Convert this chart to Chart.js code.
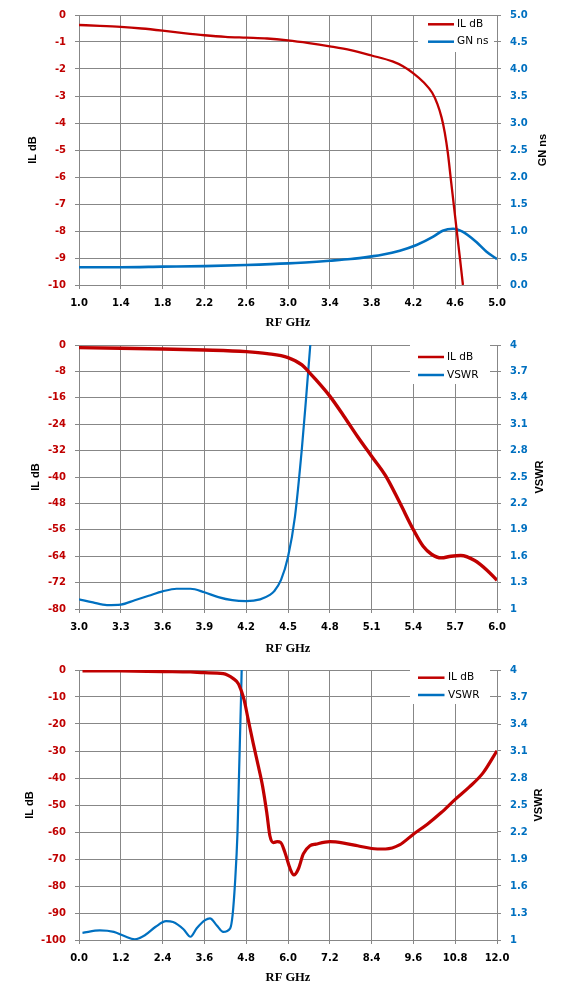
<!DOCTYPE html>
<html>
<head>
<meta charset="utf-8">
<title>Low pass filter - IL, GN, VSWR</title>
<script src="https://cdn.jsdelivr.net/npm/chart.js@4.4.1/dist/chart.umd.min.js"></script>
<style>
  body { margin: 0; background: #fff; }
  canvas { position: absolute; left: 0; }
  #c1 { top: 0; }
  #c2 { top: 330px; }
  #c3 { top: 655px; }
</style>
</head>
<body>
<canvas id="c1" width="567" height="330"></canvas>
<canvas id="c2" width="567" height="325"></canvas>
<canvas id="c3" width="567" height="348"></canvas>
<script>
// chart 1: 1-5 GHz, insertion loss + group delay
const il1Freq = [1.0, 1.2, 1.4, 1.6, 1.8, 2.0, 2.2, 2.4, 2.6, 2.8, 3.0, 3.2, 3.4, 3.6, 3.8, 4.0, 4.1, 4.2, 4.3, 4.38, 4.43, 4.47, 4.5, 4.53, 4.56, 4.59, 4.62, 4.645, 4.674];
const il1Db = [-0.37, -0.40, -0.44, -0.50, -0.58, -0.67, -0.75, -0.81, -0.84, -0.87, -0.94, -1.04, -1.16, -1.30, -1.50, -1.72, -1.90, -2.16, -2.50, -2.88, -3.30, -3.80, -4.35, -5.12, -6.14, -7.15, -8.17, -9.0, -10.0];
const gn1Freq = [1.0, 1.4, 1.8, 2.2, 2.6, 3.0, 3.4, 3.6, 3.8, 3.9, 4.07, 4.23, 4.39, 4.48, 4.58, 4.67, 4.8, 4.9, 5.0];
const gn1Ns = [0.33, 0.33, 0.34, 0.35, 0.37, 0.40, 0.45, 0.48, 0.53, 0.56, 0.635, 0.74, 0.895, 1.005, 1.043, 0.987, 0.80, 0.617, 0.48];

// chart 2: 3-6 GHz, insertion loss + VSWR
const il2Freq = [3.0, 3.3, 3.6, 3.9, 4.2, 4.35, 4.5, 4.6, 4.65, 4.7, 4.8, 4.9, 5.0, 5.1, 5.2, 5.3, 5.4, 5.47, 5.53, 5.6, 5.67, 5.74, 5.84, 5.93, 6.0];
const il2Db = [-0.8, -1.0, -1.2, -1.5, -2.0, -2.6, -3.8, -6.0, -8.2, -10.5, -15.5, -21.5, -27.8, -33.7, -39.6, -47.6, -56.0, -61.0, -63.4, -64.5, -64.0, -63.8, -65.3, -68.3, -71.3];
const vswr2Freq = [3.0, 3.1, 3.2, 3.3, 3.4, 3.5, 3.6, 3.7, 3.8, 3.9, 4.0, 4.1, 4.2, 4.3, 4.37, 4.4, 4.45, 4.5, 4.55, 4.6, 4.63, 4.66];
const vswr2 = [1.11, 1.075, 1.045, 1.05, 1.10, 1.15, 1.20, 1.23, 1.23, 1.19, 1.135, 1.10, 1.09, 1.11, 1.16, 1.2, 1.33, 1.59, 2.05, 2.83, 3.4, 4.0];

// chart 3: 0-12 GHz, insertion loss + VSWR
const il3Freq = [0.1, 1.2, 2.4, 3.2, 3.6, 4.14, 4.43, 4.57, 4.67, 4.74, 4.86, 5.0, 5.15, 5.27, 5.39, 5.48, 5.58, 5.69, 5.79, 5.91, 6.06, 6.17, 6.3, 6.44, 6.63, 6.8, 7.2, 7.6, 8.0, 8.4, 8.8, 9.2, 9.6, 10.0, 10.4, 10.8, 11.2, 11.6, 12.0];
const il3Db = [-0.3, -0.35, -0.6, -0.75, -1.0, -1.35, -3.2, -5.0, -8.1, -11.1, -18.5, -27.1, -35.7, -43.0, -52.8, -61.4, -63.9, -63.6, -63.9, -67.5, -73.6, -75.9, -73.6, -68.1, -65.1, -64.5, -63.6, -64.1, -65.1, -66.1, -66.3, -64.8, -60.8, -57.1, -52.8, -47.9, -43.4, -38.1, -29.9];
const vswr3Freq = [0.1, 0.6, 1.0, 1.3, 1.6, 1.9, 2.2, 2.5, 2.7, 3.0, 3.2, 3.38, 3.62, 3.76, 3.95, 4.14, 4.34, 4.41, 4.48, 4.55, 4.6, 4.65, 4.67];
const vswr3 = [1.08, 1.107, 1.09, 1.044, 1.008, 1.055, 1.147, 1.21, 1.20, 1.12, 1.036, 1.13, 1.22, 1.24, 1.165, 1.09, 1.13, 1.28, 1.64, 2.19, 2.93, 3.67, 4.0];

// tick labels
const x1Ticks = ['1.0', '1.4', '1.8', '2.2', '2.6', '3.0', '3.4', '3.8', '4.2', '4.6', '5.0'];
const il1Ticks = ['-10', '-9', '-8', '-7', '-6', '-5', '-4', '-3', '-2', '-1', '0'];
const gnTicks = ['0.0', '0.5', '1.0', '1.5', '2.0', '2.5', '3.0', '3.5', '4.0', '4.5', '5.0'];
const x2Ticks = ['3.0', '3.3', '3.6', '3.9', '4.2', '4.5', '4.8', '5.1', '5.4', '5.7', '6.0'];
const il2Ticks = ['-80', '-72', '-64', '-56', '-48', '-40', '-32', '-24', '-16', '-8', '0'];
const x3Ticks = ['0.0', '1.2', '2.4', '3.6', '4.8', '6.0', '7.2', '8.4', '9.6', '10.8', '12.0'];
const il3Ticks = ['-100', '-90', '-80', '-70', '-60', '-50', '-40', '-30', '-20', '-10', '0'];
const vswrTicks = ['1', '1.3', '1.6', '1.9', '2.2', '2.5', '2.8', '3.1', '3.4', '3.7', '4'];

const RED = '#C00000';
const BLUE = '#0070C0';
const GRID = '#878787';
const PLOT_L = 79, PLOT_R = 497, W = 567;
const TICK_FONT = { family: 'DejaVu Sans', weight: 'bold', size: 10 };

const pts = (xs, ys) => xs.map((x, i) => ({ x, y: ys[i] }));

// excel-like legend box inside the plot and axis titles (both vertical ones read bottom-to-top)
const excelFrame = {
  id: 'excelFrame',
  beforeDatasetsDraw(chart, args, o) {
    const ctx = chart.ctx;
    ctx.save();
    ctx.fillStyle = '#fff';
    ctx.fillRect(o.box[0], o.box[1], o.box[2], o.box[3]);
    ctx.font = '10.5px "DejaVu Sans"';
    ctx.textBaseline = 'middle';
    chart.data.datasets.forEach((ds, i) => {
      const y = o.rows[i];
      ctx.strokeStyle = ds.borderColor;
      ctx.lineWidth = 2.5;
      ctx.beginPath();
      ctx.moveTo(o.line[0], y);
      ctx.lineTo(o.line[1], y);
      ctx.stroke();
      ctx.fillStyle = '#000';
      ctx.fillText(ds.label, o.textX, y);
    });
    ctx.restore();
  },
  afterDraw(chart, args, o) {
    const ctx = chart.ctx, a = chart.chartArea;
    const midY = (a.top + a.bottom) / 2;
    ctx.save();
    ctx.fillStyle = '#000';
    ctx.textAlign = 'center';
    ctx.textBaseline = 'middle';
    ctx.font = 'bold 12.5px "Liberation Serif"';
    ctx.fillText(chart.scales.x.options.title.text, (a.left + a.right) / 2, o.xTitleY);
    ctx.font = 'bold 11px "Liberation Sans"';
    [['y', o.leftX], ['y1', o.rightX]].forEach(([id, x]) => {
      ctx.save();
      ctx.translate(x, midY);
      ctx.rotate(-Math.PI / 2);
      ctx.fillText(chart.scales[id].options.title.text, 0, 0);
      ctx.restore();
    });
    ctx.restore();
  }
};

function tickAxis(labels, extra) {
  const min = Number(labels[0]);
  const max = Number(labels[labels.length - 1]);
  return Object.assign({
    type: 'linear',
    min: min,
    max: max,
    ticks: {
      stepSize: (max - min) / (labels.length - 1),
      autoSkip: false,
      maxRotation: 0,
      font: TICK_FONT,
      padding: 9,
      callback: v => labels.find(t => Math.abs(Number(t) - v) < 1e-6) ?? ''
    },
    border: { color: GRID, width: 1 }
  }, extra);
}

function buildChart(id, o) {
  const canvas = document.getElementById(id);
  const H = canvas.height;

  const x = tickAxis(o.xTicks, {
    title: { display: false, text: 'RF GHz' },
    grid: { color: GRID, lineWidth: 1, tickLength: 4 },
    afterFit: s => { s.height = H - o.bottom; }
  });
  x.ticks.color = '#000';
  x.ticks.padding = 8;

  const y = tickAxis(o.leftTicks, {
    position: 'left',
    title: { display: false, text: o.leftTitle },
    grid: { color: GRID, lineWidth: 1, tickLength: 4 },
    afterFit: s => { s.width = PLOT_L; }
  });
  y.ticks.color = RED;

  const y1 = tickAxis(o.rightTicks, {
    position: 'right',
    title: { display: false, text: o.rightTitle },
    grid: { drawOnChartArea: false, color: GRID, lineWidth: 1, tickLength: 4 },
    afterFit: s => { s.width = W - PLOT_R; }
  });
  y1.ticks.color = BLUE;

  return new Chart(canvas, {
    type: 'line',
    data: {
      datasets: [
        { label: o.leftTitle, data: pts(o.ilFreq, o.ilVals), borderColor: RED, borderWidth: o.redW, yAxisID: 'y' },
        { label: o.rightTitle, data: pts(o.rFreq, o.rVals), borderColor: BLUE, borderWidth: o.blueW, yAxisID: 'y1' }
      ]
    },
    options: {
      responsive: false,
      animation: false,
      layout: { padding: { top: o.top, left: 0, right: 0, bottom: 0 } },
      elements: {
        point: { radius: 0 },
        line: { tension: 0.4, cubicInterpolationMode: 'monotone', fill: false }
      },
      plugins: {
        legend: { display: false },
        tooltip: { enabled: false },
        excelFrame: o.frame
      },
      scales: { x: x, y: y, y1: y1 }
    },
    plugins: [excelFrame]
  });
}

buildChart('c1', {
  xTicks: x1Ticks, leftTicks: il1Ticks, rightTicks: gnTicks,
  leftTitle: 'IL dB', rightTitle: 'GN ns',
  ilFreq: il1Freq, ilVals: il1Db, rFreq: gn1Freq, rVals: gn1Ns,
  redW: 2.3, blueW: 2.6, top: 15, bottom: 285,
  frame: { box: [418, 16, 76, 36], rows: [24.3, 41.7], line: [428, 454], textX: 457, leftX: 33, rightX: 543, xTitleY: 322.7 }
});

buildChart('c2', {
  xTicks: x2Ticks, leftTicks: il2Ticks, rightTicks: vswrTicks,
  leftTitle: 'IL dB', rightTitle: 'VSWR',
  ilFreq: il2Freq, ilVals: il2Db, rFreq: vswr2Freq, rVals: vswr2,
  redW: 3.4, blueW: 2.2, top: 13, bottom: 279,
  frame: { box: [410, 14, 80, 40], rows: [27, 45], line: [418, 444], textX: 447, leftX: 36, rightX: 539.5, xTitleY: 318.3 }
});

buildChart('c3', {
  xTicks: x3Ticks, leftTicks: il3Ticks, rightTicks: vswrTicks,
  leftTitle: 'IL dB', rightTitle: 'VSWR',
  ilFreq: il3Freq, ilVals: il3Db, rFreq: vswr3Freq, rVals: vswr3,
  redW: 3.2, blueW: 2.2, top: 13, bottom: 285,
  frame: { box: [410, 14, 80, 35], rows: [22.7, 40], line: [418, 444.5], textX: 448, leftX: 30, rightX: 539, xTitleY: 322.7 }
});
</script>
</body>
</html>
